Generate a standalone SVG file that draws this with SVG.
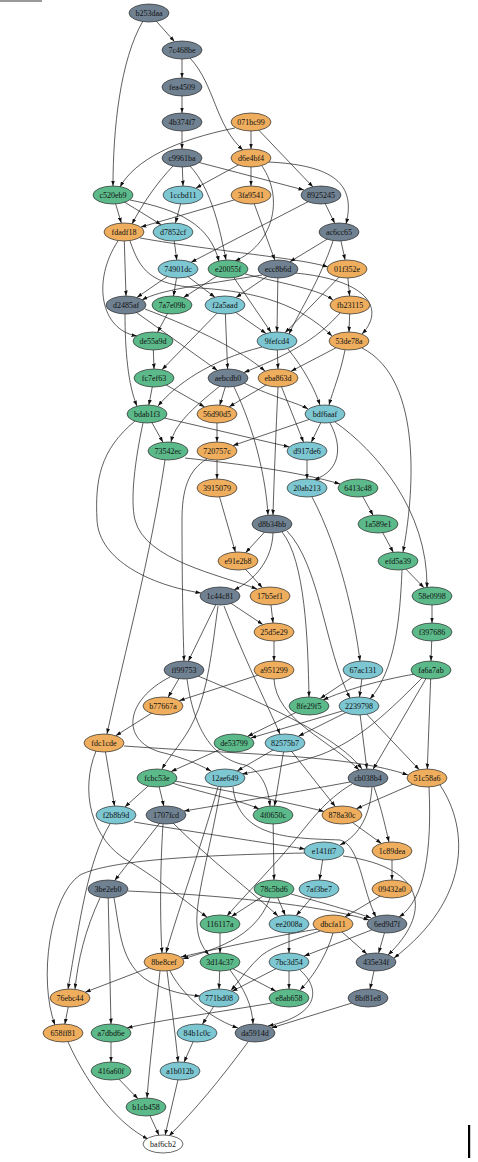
<svg xmlns="http://www.w3.org/2000/svg" width="478" height="1162" viewBox="0 0 478 1162">
<style>
.e path{fill:none;stroke:#1a1a1a;stroke-width:0.7;marker-end:url(#ah)}
.nd ellipse{stroke:#2a2a2a;stroke-width:0.7}
.nd text{font-family:"Liberation Serif","Times New Roman",serif;font-size:8px;fill:#111;text-anchor:middle}
.g ellipse{fill:#708191}
.o ellipse{fill:#eeae5e}
.n ellipse{fill:#5cba8a}
.b ellipse{fill:#7dc7d3}
.w ellipse{fill:#ffffff}
</style>
<defs>
<marker id="ah" viewBox="0 0 10 7" refX="10" refY="3.5" markerWidth="5.5" markerHeight="4" markerUnits="userSpaceOnUse" orient="auto">
<path d="M0,0 L10,3.5 L0,7 z" fill="#111"/>
</marker>
</defs>
<rect x="0" y="0" width="42" height="2" fill="#9a9a9a"/>
<rect x="468" y="1125" width="2.2" height="33" fill="#000"/>
<g id="edges" class="e">
<path d="M149,13 L174.5,41.6"/>
<path d="M143,21 C120,60 113,130 113,186"/>
<path d="M182,50 L182,78"/>
<path d="M190,58 C215,85 215,125 243,150"/>
<path d="M182,87 L182,113"/>
<path d="M182,122 L182,149"/>
<path d="M251,122 L251,149"/>
<path d="M235,128 C175,140 135,160 120,187"/>
<path d="M251,122 L313,187"/>
<path d="M182,158 L183,186"/>
<path d="M182,158 L304,190"/>
<path d="M173,166 C155,185 142,205 132,224"/>
<path d="M190,166 C212,190 220,230 226,260"/>
<path d="M251,158 L196,188"/>
<path d="M251,158 L251,186"/>
<path d="M262,166 C285,200 272,245 235,261"/>
<path d="M268,162 C335,165 356,185 346,224"/>
<path d="M321,195 L334.7,223.2"/>
<path d="M113,195 L121.3,223.1"/>
<path d="M113,195 L161.2,224.7"/>
<path d="M130,200 C180,210 210,225 219,261.5"/>
<path d="M183,195 L175.4,223.1"/>
<path d="M251,195 L140.8,227.1"/>
<path d="M251,195 L274.8,260.1"/>
<path d="M321,195 L191.1,262.2"/>
<path d="M339,232 L289.9,261.8"/>
<path d="M339,232 L345.1,260"/>
<path d="M173,232 L176.8,260.1"/>
<path d="M140,238 C220,252 300,258 328,267"/>
<path d="M124,232 L126,296"/>
<path d="M118,241 C92,280 100,330 137,336"/>
<path d="M130,241 C140,270 150,285 200,288 C260,292 300,305 332,336"/>
<path d="M178,269 L136.9,297.5"/>
<path d="M178,269 L173.5,296.1"/>
<path d="M178,269 L214.9,297.2"/>
<path d="M228,269 L183.5,297.6"/>
<path d="M245,274 C290,285 320,290 333,300"/>
<path d="M228,269 L271.1,332.4"/>
<path d="M262,275 C200,285 160,290 142,300"/>
<path d="M278,269 L236,297.5"/>
<path d="M278,269 L277,332"/>
<path d="M295,273 C370,280 385,310 362,334"/>
<path d="M333,241 C320,280 300,310 289,334"/>
<path d="M347,269 L349.6,296"/>
<path d="M347,269 L285,332.8"/>
<path d="M350,305 L349,332"/>
<path d="M340,313 C320,335 300,350 244,372.5"/>
<path d="M125,314 C125,350 128,385 137,406"/>
<path d="M126,305 L217.4,370.4"/>
<path d="M145,309 C200,330 240,350 265,371"/>
<path d="M172,305 L157.6,332.2"/>
<path d="M225,305 L162,369.7"/>
<path d="M225,305 L227.6,369"/>
<path d="M225,305 L266.1,333.5"/>
<path d="M153,341 L154,369"/>
<path d="M277,341 L278,369"/>
<path d="M288,349 C305,370 315,390 320,405"/>
<path d="M262,347 C210,360 175,385 158,406"/>
<path d="M349,341 L291.1,371.2"/>
<path d="M345,350 C340,375 333,390 329,405"/>
<path d="M362,348 C425,380 413,500 403,552"/>
<path d="M154,378 L148.8,405.2"/>
<path d="M154,378 L204.6,406.9"/>
<path d="M228,378 L219.7,405.3"/>
<path d="M220,386 C190,410 175,425 171,442"/>
<path d="M234,387 C255,430 266,480 268,515"/>
<path d="M244,383 C275,398 298,403 308,409"/>
<path d="M278,378 L229.1,406.8"/>
<path d="M278,378 L303.5,442.1"/>
<path d="M278,387 C276,430 274,480 273,515"/>
<path d="M147,414 L163,442.3"/>
<path d="M147,414 L289.2,446.9"/>
<path d="M135,421 C100,450 95,480 97,520 C99,560 150,585 201,593"/>
<path d="M143,423 C135,460 130,500 135,520 C145,560 220,575 257,589"/>
<path d="M165,460 C150,560 125,650 107,734"/>
<path d="M185,458 C240,464 300,472 340,484"/>
<path d="M217,414 L217,442"/>
<path d="M325,414 L232.9,445.6"/>
<path d="M325,414 L311.3,442.2"/>
<path d="M335,422 C375,450 428,510 427,588"/>
<path d="M330,423 C342,445 342,470 314,480"/>
<path d="M217,451 L217,479"/>
<path d="M307,451 L307,479"/>
<path d="M207,459 C188,470 182,490 182,520 C182,580 183,630 184,661"/>
<path d="M217,488 L235.4,552.1"/>
<path d="M312,497 C340,550 355,620 360,661"/>
<path d="M358,488 L373.1,515.3"/>
<path d="M378,524 L393.3,552.3"/>
<path d="M272,524 L245.6,552.7"/>
<path d="M273,533 C272,560 255,580 234,590"/>
<path d="M282,532 C305,560 308,640 309,697"/>
<path d="M287,531 C320,565 325,650 350,698"/>
<path d="M398,561 L424,587.7"/>
<path d="M402,570 C400,620 395,670 370,699"/>
<path d="M238,561 L262.4,587.7"/>
<path d="M220,596 L262.8,624.5"/>
<path d="M220,596 L188.3,661.2"/>
<path d="M218,606 C212,650 208,690 194,720 C185,740 170,755 162,769"/>
<path d="M224,606 C245,660 265,700 280,734"/>
<path d="M270,596 L273,623"/>
<path d="M274,632 L274,661"/>
<path d="M432,596 L432,623"/>
<path d="M432,632 L431,661"/>
<path d="M184,670 L168.1,697.3"/>
<path d="M198,676 C280,710 340,740 362,769"/>
<path d="M170,677 C125,700 120,740 160,752 C185,758 200,765 211,771"/>
<path d="M187,679 C195,740 220,760 245,765 C260,770 268,785 270,806"/>
<path d="M274,670 L179.2,700.7"/>
<path d="M274,679 C276,720 330,740 359,770"/>
<path d="M363,670 L320.2,698.5"/>
<path d="M363,670 L359.5,697"/>
<path d="M415,674 C380,680 345,690 323,700"/>
<path d="M431,670 L373.1,769.3"/>
<path d="M431,670 L427.3,769"/>
<path d="M422,678 C390,710 360,740 320,755 C290,765 265,770 242,774"/>
<path d="M163,706 L115.7,735.7"/>
<path d="M309,706 L247.5,736.4"/>
<path d="M359,706 L250.7,738.1"/>
<path d="M359,706 L298.4,736.3"/>
<path d="M359,706 L366.9,769"/>
<path d="M359,706 L419.2,769.7"/>
<path d="M124,746 C250,755 350,755 408,775"/>
<path d="M104,743 L114.5,806.1"/>
<path d="M96,751 C80,790 90,840 130,862 C160,880 190,905 207,917"/>
<path d="M110,824 C88,860 80,920 68,989"/>
<path d="M234,743 L171.1,771.6"/>
<path d="M285,743 L237.2,770.9"/>
<path d="M285,743 L274.5,806.1"/>
<path d="M285,743 L335.3,806.5"/>
<path d="M157,778 L124.9,806.9"/>
<path d="M157,778 L163.9,806.2"/>
<path d="M175,781 C250,795 300,805 324,811.5"/>
<path d="M172,783 C210,795 240,800 259,809"/>
<path d="M218,787 C200,850 175,920 166,953"/>
<path d="M221,787 C210,850 195,900 197,925 C198,940 203,948 209,955"/>
<path d="M233,787 C238,840 295,838 340,840 C360,845 362,890 376,917"/>
<path d="M350,782 C280,795 220,805 184,811"/>
<path d="M372,787 C370,815 360,835 340,845"/>
<path d="M374,787 C382,810 386,830 389,842"/>
<path d="M352,784 C325,800 310,822 295,840 C275,865 245,895 227,916"/>
<path d="M427,778 L356.4,808.7"/>
<path d="M429,787 C432,850 425,900 399,917"/>
<path d="M440,785 C470,830 470,900 394,958"/>
<path d="M134,822 C200,833 260,842 305,849"/>
<path d="M166,815 L114.7,880.5"/>
<path d="M163,824 C160,870 160,920 162,953"/>
<path d="M173,823 C210,860 250,890 278,916"/>
<path d="M273,815 L274,880"/>
<path d="M342,815 L381.4,843.4"/>
<path d="M324,851 L319.5,880"/>
<path d="M305,853 C200,855 110,860 80,875 C50,895 38,980 55,1025"/>
<path d="M343,856 C430,868 430,915 388,955"/>
<path d="M392,851 L392,880"/>
<path d="M128,891 C220,895 320,905 369,920"/>
<path d="M100,898 C85,930 78,960 75,989"/>
<path d="M108,889 L111,1024"/>
<path d="M114,898 C120,930 120,965 150,982 C170,992 185,995 200,996"/>
<path d="M274,889 L231.4,916.6"/>
<path d="M274,889 L285.2,915.2"/>
<path d="M291,894 C330,905 355,912 371,918"/>
<path d="M270,898 C255,940 210,950 183,959"/>
<path d="M319,889 L296.2,915.6"/>
<path d="M392,889 L345.1,916.8"/>
<path d="M220,924 L220,953"/>
<path d="M289,924 L289,953"/>
<path d="M318,929 C280,935 220,948 181,957"/>
<path d="M333,924 L366.9,954"/>
<path d="M333,933 C325,960 310,980 300,990"/>
<path d="M320,931 C300,938 275,945 262,955 C250,965 240,980 231,990.5"/>
<path d="M387,924 L378.6,953.1"/>
<path d="M387,924 L304.1,956.1"/>
<path d="M164,962 L85.2,992.2"/>
<path d="M170,971 C185,1000 215,1020 238,1028"/>
<path d="M160,971 C155,1020 150,1060 147,1098"/>
<path d="M167,971 C172,1010 176,1040 178,1062"/>
<path d="M220,962 L219,989"/>
<path d="M220,962 L275.9,991.2"/>
<path d="M230,970 C245,990 252,1005 253,1024"/>
<path d="M289,962 L232.2,991.2"/>
<path d="M289,962 L289,989"/>
<path d="M300,970 C322,990 318,1015 268,1026"/>
<path d="M376,962 L370,989.2"/>
<path d="M368,998 L271.5,1027.9"/>
<path d="M272,1003 C220,1012 160,1020 127,1028"/>
<path d="M219,998 L202.4,1024.3"/>
<path d="M70,998 L64.8,1024.2"/>
<path d="M111,1033 L111,1062"/>
<path d="M197,1033 L184,1062.2"/>
<path d="M111,1071 L138,1098.8"/>
<path d="M180,1071 L165.1,1135.1"/>
<path d="M146,1107 L159,1135.2"/>
<path d="M68,1042 C90,1090 120,1125 148,1139"/>
<path d="M248,1042 C220,1080 195,1110 169,1136"/>
</g>
<g id="node-b253daa" class="nd g"><ellipse cx="149" cy="13" rx="20" ry="9"/><text x="149" y="15.8">b253daa</text></g>
<g id="node-7c468be" class="nd g"><ellipse cx="182" cy="50" rx="20" ry="9"/><text x="182" y="52.8">7c468be</text></g>
<g id="node-fea4509" class="nd g"><ellipse cx="182" cy="87" rx="20" ry="9"/><text x="182" y="89.8">fea4509</text></g>
<g id="node-4b374f7" class="nd g"><ellipse cx="182" cy="122" rx="20" ry="9"/><text x="182" y="124.8">4b374f7</text></g>
<g id="node-071bc99" class="nd o"><ellipse cx="251" cy="122" rx="20" ry="9"/><text x="251" y="124.8">071bc99</text></g>
<g id="node-c9961ba" class="nd g"><ellipse cx="182" cy="158" rx="20" ry="9"/><text x="182" y="160.8">c9961ba</text></g>
<g id="node-d6e4bf4" class="nd o"><ellipse cx="251" cy="158" rx="20" ry="9"/><text x="251" y="160.8">d6e4bf4</text></g>
<g id="node-c520eb9" class="nd n"><ellipse cx="113" cy="195" rx="20" ry="9"/><text x="113" y="197.8">c520eb9</text></g>
<g id="node-1ccbd11" class="nd b"><ellipse cx="183" cy="195" rx="20" ry="9"/><text x="183" y="197.8">1ccbd11</text></g>
<g id="node-3fa9541" class="nd o"><ellipse cx="251" cy="195" rx="20" ry="9"/><text x="251" y="197.8">3fa9541</text></g>
<g id="node-8925245" class="nd g"><ellipse cx="321" cy="195" rx="20" ry="9"/><text x="321" y="197.8">8925245</text></g>
<g id="node-fdadf18" class="nd o"><ellipse cx="124" cy="232" rx="20" ry="9"/><text x="124" y="234.8">fdadf18</text></g>
<g id="node-d7852cf" class="nd b"><ellipse cx="173" cy="232" rx="20" ry="9"/><text x="173" y="234.8">d7852cf</text></g>
<g id="node-ac6cc65" class="nd g"><ellipse cx="339" cy="232" rx="20" ry="9"/><text x="339" y="234.8">ac6cc65</text></g>
<g id="node-74901dc" class="nd b"><ellipse cx="178" cy="269" rx="20" ry="9"/><text x="178" y="271.8">74901dc</text></g>
<g id="node-e20055f" class="nd n"><ellipse cx="228" cy="269" rx="20" ry="9"/><text x="228" y="271.8">e20055f</text></g>
<g id="node-ecc8b6d" class="nd g"><ellipse cx="278" cy="269" rx="20" ry="9"/><text x="278" y="271.8">ecc8b6d</text></g>
<g id="node-01f352e" class="nd o"><ellipse cx="347" cy="269" rx="20" ry="9"/><text x="347" y="271.8">01f352e</text></g>
<g id="node-d2485af" class="nd g"><ellipse cx="126" cy="305" rx="20" ry="9"/><text x="126" y="307.8">d2485af</text></g>
<g id="node-7a7e09b" class="nd n"><ellipse cx="172" cy="305" rx="20" ry="9"/><text x="172" y="307.8">7a7e09b</text></g>
<g id="node-f2a5aad" class="nd b"><ellipse cx="225" cy="305" rx="20" ry="9"/><text x="225" y="307.8">f2a5aad</text></g>
<g id="node-fb23115" class="nd o"><ellipse cx="350" cy="305" rx="20" ry="9"/><text x="350" y="307.8">fb23115</text></g>
<g id="node-de55a9d" class="nd n"><ellipse cx="153" cy="341" rx="20" ry="9"/><text x="153" y="343.8">de55a9d</text></g>
<g id="node-9fefcd4" class="nd b"><ellipse cx="277" cy="341" rx="20" ry="9"/><text x="277" y="343.8">9fefcd4</text></g>
<g id="node-53de78a" class="nd o"><ellipse cx="349" cy="341" rx="20" ry="9"/><text x="349" y="343.8">53de78a</text></g>
<g id="node-fc7ef63" class="nd n"><ellipse cx="154" cy="378" rx="20" ry="9"/><text x="154" y="380.8">fc7ef63</text></g>
<g id="node-aebcdb0" class="nd g"><ellipse cx="228" cy="378" rx="20" ry="9"/><text x="228" y="380.8">aebcdb0</text></g>
<g id="node-eba863d" class="nd o"><ellipse cx="278" cy="378" rx="20" ry="9"/><text x="278" y="380.8">eba863d</text></g>
<g id="node-bdab1f3" class="nd n"><ellipse cx="147" cy="414" rx="20" ry="9"/><text x="147" y="416.8">bdab1f3</text></g>
<g id="node-56d90d5" class="nd o"><ellipse cx="217" cy="414" rx="20" ry="9"/><text x="217" y="416.8">56d90d5</text></g>
<g id="node-bdf6aaf" class="nd b"><ellipse cx="325" cy="414" rx="20" ry="9"/><text x="325" y="416.8">bdf6aaf</text></g>
<g id="node-73542ec" class="nd n"><ellipse cx="168" cy="451" rx="20" ry="9"/><text x="168" y="453.8">73542ec</text></g>
<g id="node-720757c" class="nd o"><ellipse cx="217" cy="451" rx="20" ry="9"/><text x="217" y="453.8">720757c</text></g>
<g id="node-d917de6" class="nd b"><ellipse cx="307" cy="451" rx="20" ry="9"/><text x="307" y="453.8">d917de6</text></g>
<g id="node-3915079" class="nd o"><ellipse cx="217" cy="488" rx="20" ry="9"/><text x="217" y="490.8">3915079</text></g>
<g id="node-20ab213" class="nd b"><ellipse cx="307" cy="488" rx="20" ry="9"/><text x="307" y="490.8">20ab213</text></g>
<g id="node-6413c48" class="nd n"><ellipse cx="358" cy="488" rx="20" ry="9"/><text x="358" y="490.8">6413c48</text></g>
<g id="node-d8b34bb" class="nd g"><ellipse cx="272" cy="524" rx="20" ry="9"/><text x="272" y="526.8">d8b34bb</text></g>
<g id="node-1a589e1" class="nd n"><ellipse cx="378" cy="524" rx="20" ry="9"/><text x="378" y="526.8">1a589e1</text></g>
<g id="node-e91e2b8" class="nd o"><ellipse cx="238" cy="561" rx="20" ry="9"/><text x="238" y="563.8">e91e2b8</text></g>
<g id="node-efd5a39" class="nd n"><ellipse cx="398" cy="561" rx="20" ry="9"/><text x="398" y="563.8">efd5a39</text></g>
<g id="node-1c44c81" class="nd g"><ellipse cx="220" cy="596" rx="20" ry="9"/><text x="220" y="598.8">1c44c81</text></g>
<g id="node-17b5ef1" class="nd o"><ellipse cx="270" cy="596" rx="20" ry="9"/><text x="270" y="598.8">17b5ef1</text></g>
<g id="node-58e0998" class="nd n"><ellipse cx="432" cy="596" rx="20" ry="9"/><text x="432" y="598.8">58e0998</text></g>
<g id="node-25d5e29" class="nd o"><ellipse cx="274" cy="632" rx="20" ry="9"/><text x="274" y="634.8">25d5e29</text></g>
<g id="node-f397686" class="nd n"><ellipse cx="432" cy="632" rx="20" ry="9"/><text x="432" y="634.8">f397686</text></g>
<g id="node-ff99753" class="nd g"><ellipse cx="184" cy="670" rx="20" ry="9"/><text x="184" y="672.8">ff99753</text></g>
<g id="node-a951299" class="nd o"><ellipse cx="274" cy="670" rx="20" ry="9"/><text x="274" y="672.8">a951299</text></g>
<g id="node-67ac131" class="nd b"><ellipse cx="363" cy="670" rx="20" ry="9"/><text x="363" y="672.8">67ac131</text></g>
<g id="node-fa6a7ab" class="nd n"><ellipse cx="431" cy="670" rx="20" ry="9"/><text x="431" y="672.8">fa6a7ab</text></g>
<g id="node-b77667a" class="nd o"><ellipse cx="163" cy="706" rx="20" ry="9"/><text x="163" y="708.8">b77667a</text></g>
<g id="node-8fe29f5" class="nd n"><ellipse cx="309" cy="706" rx="20" ry="9"/><text x="309" y="708.8">8fe29f5</text></g>
<g id="node-2239798" class="nd b"><ellipse cx="359" cy="706" rx="20" ry="9"/><text x="359" y="708.8">2239798</text></g>
<g id="node-fdc1cde" class="nd o"><ellipse cx="104" cy="743" rx="20" ry="9"/><text x="104" y="745.8">fdc1cde</text></g>
<g id="node-de53799" class="nd n"><ellipse cx="234" cy="743" rx="20" ry="9"/><text x="234" y="745.8">de53799</text></g>
<g id="node-82575b7" class="nd b"><ellipse cx="285" cy="743" rx="20" ry="9"/><text x="285" y="745.8">82575b7</text></g>
<g id="node-fcbc53e" class="nd n"><ellipse cx="157" cy="778" rx="20" ry="9"/><text x="157" y="780.8">fcbc53e</text></g>
<g id="node-12ae649" class="nd b"><ellipse cx="225" cy="778" rx="20" ry="9"/><text x="225" y="780.8">12ae649</text></g>
<g id="node-cb038b4" class="nd g"><ellipse cx="368" cy="778" rx="20" ry="9"/><text x="368" y="780.8">cb038b4</text></g>
<g id="node-51c58a6" class="nd o"><ellipse cx="427" cy="778" rx="20" ry="9"/><text x="427" y="780.8">51c58a6</text></g>
<g id="node-f2b8b9d" class="nd b"><ellipse cx="116" cy="815" rx="20" ry="9"/><text x="116" y="817.8">f2b8b9d</text></g>
<g id="node-1707fcd" class="nd g"><ellipse cx="166" cy="815" rx="20" ry="9"/><text x="166" y="817.8">1707fcd</text></g>
<g id="node-4f0650c" class="nd n"><ellipse cx="273" cy="815" rx="20" ry="9"/><text x="273" y="817.8">4f0650c</text></g>
<g id="node-878a30c" class="nd o"><ellipse cx="342" cy="815" rx="20" ry="9"/><text x="342" y="817.8">878a30c</text></g>
<g id="node-e141ff7" class="nd b"><ellipse cx="324" cy="851" rx="20" ry="9"/><text x="324" y="853.8">e141ff7</text></g>
<g id="node-1c89dea" class="nd o"><ellipse cx="392" cy="851" rx="20" ry="9"/><text x="392" y="853.8">1c89dea</text></g>
<g id="node-3be2eb0" class="nd g"><ellipse cx="108" cy="889" rx="20" ry="9"/><text x="108" y="891.8">3be2eb0</text></g>
<g id="node-78c5bd6" class="nd n"><ellipse cx="274" cy="889" rx="20" ry="9"/><text x="274" y="891.8">78c5bd6</text></g>
<g id="node-7af3be7" class="nd b"><ellipse cx="319" cy="889" rx="20" ry="9"/><text x="319" y="891.8">7af3be7</text></g>
<g id="node-09432a0" class="nd o"><ellipse cx="392" cy="889" rx="20" ry="9"/><text x="392" y="891.8">09432a0</text></g>
<g id="node-116117a" class="nd n"><ellipse cx="220" cy="924" rx="20" ry="9"/><text x="220" y="926.8">116117a</text></g>
<g id="node-ee2008a" class="nd b"><ellipse cx="289" cy="924" rx="20" ry="9"/><text x="289" y="926.8">ee2008a</text></g>
<g id="node-dbcfa11" class="nd o"><ellipse cx="333" cy="924" rx="20" ry="9"/><text x="333" y="926.8">dbcfa11</text></g>
<g id="node-6ed9d7f" class="nd g"><ellipse cx="387" cy="924" rx="20" ry="9"/><text x="387" y="926.8">6ed9d7f</text></g>
<g id="node-8be8cef" class="nd o"><ellipse cx="164" cy="962" rx="20" ry="9"/><text x="164" y="964.8">8be8cef</text></g>
<g id="node-3d14c37" class="nd n"><ellipse cx="220" cy="962" rx="20" ry="9"/><text x="220" y="964.8">3d14c37</text></g>
<g id="node-7bc3d54" class="nd b"><ellipse cx="289" cy="962" rx="20" ry="9"/><text x="289" y="964.8">7bc3d54</text></g>
<g id="node-435e34f" class="nd g"><ellipse cx="376" cy="962" rx="20" ry="9"/><text x="376" y="964.8">435e34f</text></g>
<g id="node-76ebc44" class="nd o"><ellipse cx="70" cy="998" rx="20" ry="9"/><text x="70" y="1000.8">76ebc44</text></g>
<g id="node-771bd08" class="nd b"><ellipse cx="219" cy="998" rx="20" ry="9"/><text x="219" y="1000.8">771bd08</text></g>
<g id="node-e8ab658" class="nd n"><ellipse cx="289" cy="998" rx="20" ry="9"/><text x="289" y="1000.8">e8ab658</text></g>
<g id="node-8bf81e8" class="nd g"><ellipse cx="368" cy="998" rx="20" ry="9"/><text x="368" y="1000.8">8bf81e8</text></g>
<g id="node-658ff81" class="nd o"><ellipse cx="63" cy="1033" rx="20" ry="9"/><text x="63" y="1035.8">658ff81</text></g>
<g id="node-a7dbd6e" class="nd n"><ellipse cx="111" cy="1033" rx="20" ry="9"/><text x="111" y="1035.8">a7dbd6e</text></g>
<g id="node-84b1c0c" class="nd b"><ellipse cx="197" cy="1033" rx="20" ry="9"/><text x="197" y="1035.8">84b1c0c</text></g>
<g id="node-da5914d" class="nd g"><ellipse cx="255" cy="1033" rx="20" ry="9"/><text x="255" y="1035.8">da5914d</text></g>
<g id="node-416a60f" class="nd n"><ellipse cx="111" cy="1071" rx="20" ry="9"/><text x="111" y="1073.8">416a60f</text></g>
<g id="node-a1b012b" class="nd b"><ellipse cx="180" cy="1071" rx="20" ry="9"/><text x="180" y="1073.8">a1b012b</text></g>
<g id="node-b1cb458" class="nd n"><ellipse cx="146" cy="1107" rx="20" ry="9"/><text x="146" y="1109.8">b1cb458</text></g>
<g id="node-baf6cb2" class="nd w"><ellipse cx="163" cy="1144" rx="20" ry="9"/><text x="163" y="1146.8">baf6cb2</text></g>
</svg>
